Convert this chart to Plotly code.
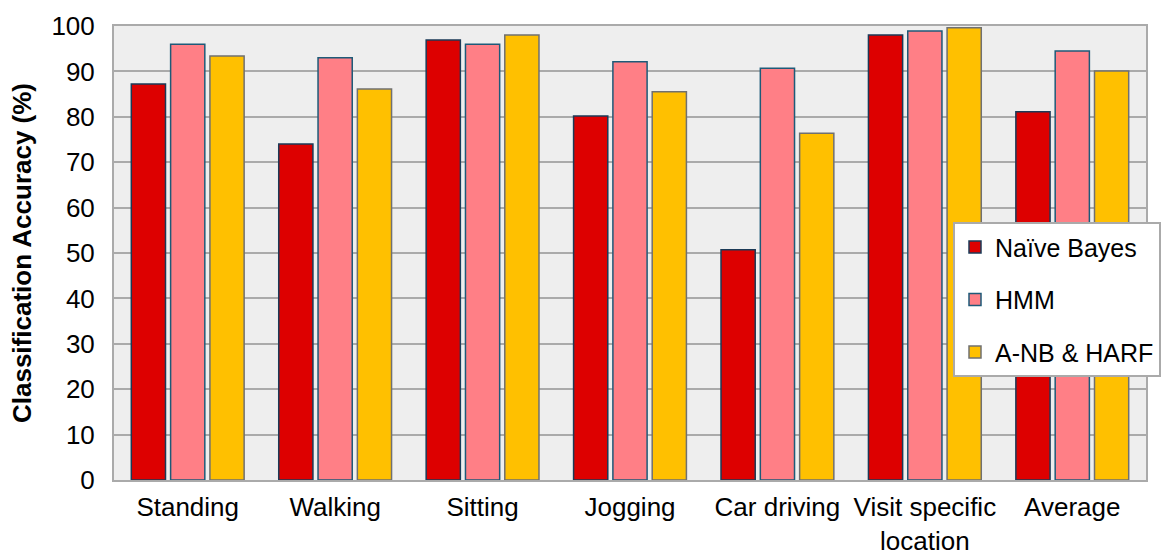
import plotly.graph_objects as go

categories = ["Standing", "Walking", "Sitting", "Jogging", "Car driving",
              "Visit specific<br>location", "Average"]
naive_bayes = [87.2, 74.0, 96.9, 80.2, 50.7, 98.0, 81.1]
hmm = [96.0, 93.0, 96.0, 92.1, 90.7, 98.9, 94.5]
anb_harf = [93.4, 86.1, 98.0, 85.5, 76.4, 99.6, 90.1]
series_names = ["Naïve Bayes", "HMM", "A-NB & HARF"]

fill_colors = ["#DD0000", "#FF7F86", "#FFC000"]
line_colors = ["#1B3A57", "#1E5A78", "#707070"]

fig = go.Figure()
for i, (name, vals) in enumerate(zip(series_names, [naive_bayes, hmm, anb_harf])):
    fig.add_trace(go.Bar(
        x=categories, y=vals, name=name, legendgroup=name,
        marker=dict(color=fill_colors[i], line=dict(color=line_colors[i], width=1.5)),
    ))

font = "Arial, Liberation Sans, sans-serif"
fig.update_layout(
    width=1161, height=553,
    margin=dict(l=114, r=0, t=26, b=73),
    paper_bgcolor="white", plot_bgcolor="#EEEEEE",
    barmode="group", bargap=0.2, bargroupgap=0.13,
    font=dict(family=font, size=26, color="black"),
    legend=dict(
        x=1.0, y=0.568, xanchor="right", yanchor="top",
        bgcolor="white", bordercolor="#AAAAAA", borderwidth=2,
        font=dict(family=font, size=25, color="black"),
        traceorder="grouped", tracegroupgap=17, itemwidth=30,
    ),
    showlegend=True,
)
fig.update_yaxes(
    range=[0, 100], dtick=10, showgrid=True, gridcolor="#AAAAAA", gridwidth=2,
    showline=True, linecolor="#AAAAAA", linewidth=2, mirror=True,
    ticks="", ticklabelstandoff=12, automargin=False,
    title=dict(text="<b>Classification Accuracy (%)</b>", font=dict(size=26), standoff=12),
    zeroline=False,
)
fig.update_xaxes(
    domain=[0, 1032 / 1047],
    showline=True, linecolor="#AAAAAA", linewidth=2, mirror=True,
    ticks="", tickangle=0, ticklabelstandoff=3, automargin=False,
)
fig.write_html("out.html", config={"displayModeBar": False},
               post_script="document.body.style.margin='0px';document.body.style.overflow='hidden';")
